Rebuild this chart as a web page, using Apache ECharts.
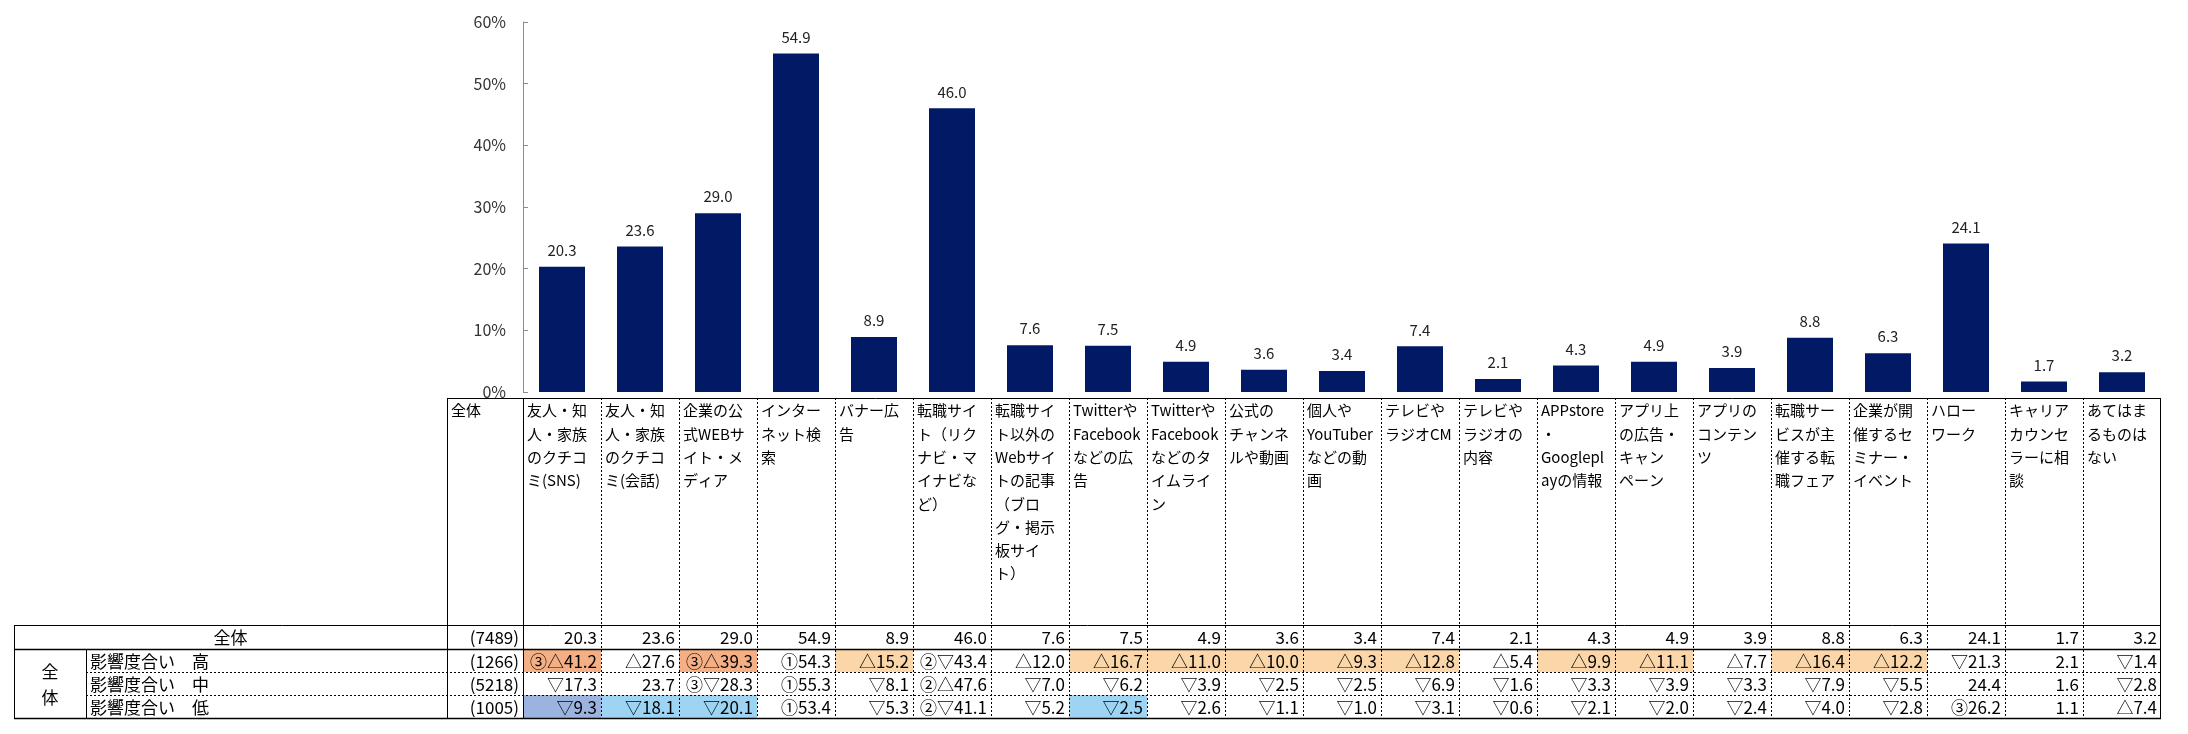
<!DOCTYPE html>
<html>
<head>
<meta charset="utf-8">
<script src="https://cdn.jsdelivr.net/npm/echarts@6/dist/echarts.min.js"></script>
<style>
html,body{margin:0;padding:0;background:#fff;}
#chart{width:2188px;height:734px;}
</style>
</head>
<body>
<div id="chart"></div>
<script>
// ---------- DATA ----------
const categories = [
  "友人・知\n人・家族\nのクチコ\nミ(SNS)",
  "友人・知\n人・家族\nのクチコ\nミ(会話)",
  "企業の公\n式WEBサ\nイト・メ\nディア",
  "インター\nネット検\n索",
  "バナー広\n告",
  "転職サイ\nト（リク\nナビ・マ\nイナビな\nど）",
  "転職サイ\nト以外の\nWebサイ\nトの記事\n（ブロ\nグ・掲示\n板サイ\nト）",
  "Twitterや\nFacebook\nなどの広\n告",
  "Twitterや\nFacebook\nなどのタ\nイムライ\nン",
  "公式の\nチャンネ\nルや動画",
  "個人や\nYouTuber\nなどの動\n画",
  "テレビや\nラジオCM",
  "テレビや\nラジオの\n内容",
  "APPstore\n・\nGooglepl\nayの情報",
  "アプリ上\nの広告・\nキャン\nペーン",
  "アプリの\nコンテン\nツ",
  "転職サー\nビスが主\n催する転\n職フェア",
  "企業が開\n催するセ\nミナー・\nイベント",
  "ハロー\nワーク",
  "キャリア\nカウンセ\nラーに相\n談",
  "あてはま\nるものは\nない"
];
const overall = [20.3, 23.6, 29.0, 54.9, 8.9, 46.0, 7.6, 7.5, 4.9, 3.6, 3.4, 7.4, 2.1, 4.3, 4.9, 3.9, 8.8, 6.3, 24.1, 1.7, 3.2];
const yTicks = ["0%", "10%", "20%", "30%", "40%", "50%", "60%"];

const headerLabel = "全体";
const totalLabel = "全体";
const totalN = "(7489)";
const groupLabel = "全\n体";
const rowNames = ["影響度合い　高", "影響度合い　中", "影響度合い　低"];
const rowN = ["(1266)", "(5218)", "(1005)"];
const rowHigh = ["③△41.2","△27.6","③△39.3","①54.3","△15.2","②▽43.4","△12.0","△16.7","△11.0","△10.0","△9.3","△12.8","△5.4","△9.9","△11.1","△7.7","△16.4","△12.2","▽21.3","2.1","▽1.4"];
const rowMid  = ["▽17.3","23.7","③▽28.3","①55.3","▽8.1","②△47.6","▽7.0","▽6.2","▽3.9","▽2.5","▽2.5","▽6.9","▽1.6","▽3.3","▽3.9","▽3.3","▽7.9","▽5.5","24.4","1.6","▽2.8"];
const rowLow  = ["▽9.3","▽18.1","▽20.1","①53.4","▽5.3","②▽41.1","▽5.2","▽2.5","▽2.6","▽1.1","▽1.0","▽3.1","▽0.6","▽2.1","▽2.0","▽2.4","▽4.0","▽2.8","③26.2","1.1","△7.4"];
// significance shading codes: 2 = strong high, 1 = high, -1 = low, -2 = strong low, 0 = none
const shadeHigh = [2,0,2,0,1,0,0,1,1,1,1,1,0,1,1,0,1,1,0,0,0];
const shadeMid  = [0,0,0,0,0,0,0,0,0,0,0,0,0,0,0,0,0,0,0,0,0];
const shadeLow  = [-2,-1,-1,0,0,0,0,-1,0,0,0,0,0,0,0,0,0,0,0,0,0];

// ---------- STYLE ----------
const FONT = '"Noto Sans CJK JP", "Noto Sans", sans-serif';
const shadeColors = { "2": "#F4B084", "1": "#FAD6A8", "-1": "#9DD4F3", "-2": "#9DB3DF" };
const BAR_COLOR = "#021A65";

const chart = echarts.init(document.getElementById('chart'), null, { renderer: 'canvas' });

const option = {
  animation: false,
  backgroundColor: '#fff',
  grid: { left: 523, right: 27, top: 22, bottom: 342, containLabel: false },
  xAxis: {
    type: 'category',
    data: categories,
    axisLine: { show: false },
    axisTick: { show: false },
    axisLabel: { show: false }
  },
  yAxis: {
    type: 'value',
    min: 0, max: 60, interval: 10,
    axisLine: { show: true, lineStyle: { color: '#8c8c8c', width: 1 } },
    axisTick: { show: true, inside: true, length: 5, lineStyle: { color: '#8c8c8c' } },
    splitLine: { show: false },
    axisLabel: {
      margin: 17,
      color: '#333',
      fontFamily: FONT,
      fontSize: 16,
      formatter: function (v) { return yTicks[Math.round(v / 10)]; }
    }
  },
  series: [{
    type: 'bar',
    data: overall,
    barWidth: 46,
    itemStyle: { color: BAR_COLOR },
    label: {
      show: true,
      position: 'top',
      distance: 9,
      color: '#222',
      fontFamily: FONT,
      fontSize: 15,
      formatter: function (p) { return p.value.toFixed(1); }
    }
  }]
};
chart.setOption(option);

// ---------- TABLE (positioned from the category axis) ----------
function buildTable() {
  const n = categories.length;
  const c0 = chart.convertToPixel({ xAxisIndex: 0 }, 0);
  const c1 = chart.convertToPixel({ xAxisIndex: 0 }, 1);
  const band = c1 - c0;
  const colLeft = i => chart.convertToPixel({ xAxisIndex: 0 }, i) - band / 2;
  const gridLeft = colLeft(0);
  const gridRight = colLeft(n - 1) + band;

  const yHeadTop = 398;
  const rowsY = [625, 649, 672, 695, 718];
  const xTableLeft = 14, xGroup = 86, xLabelRight = 447;

  const els = [];
  const solid = (x1, y1, x2, y2, w) => els.push({ type: 'line', silent: true,
    shape: { x1: x1, y1: y1, x2: x2, y2: y2 }, style: { stroke: '#000', lineWidth: w || 1 }, z: 10 });
  const dotted = (x1, y1, x2, y2) => els.push({ type: 'line', silent: true,
    shape: { x1: x1, y1: y1, x2: x2, y2: y2 }, style: { stroke: '#000', lineWidth: 1, lineDash: [2, 2] }, z: 10 });
  const text = (x, y, s, align, vAlign, size, extra) => els.push({ type: 'text', silent: true, x: x, y: y, z: 20,
    style: Object.assign({ text: s, fill: '#000', font: size + 'px ' + FONT, align: align, verticalAlign: vAlign }, extra || {}) });

  // shaded cells
  const shades = [null, shadeHigh, shadeMid, shadeLow];
  for (let r = 1; r <= 3; r++) {
    for (let i = 0; i < n; i++) {
      const code = shades[r][i];
      if (code) {
        els.push({ type: 'rect', silent: true, z: 5,
          shape: { x: colLeft(i), y: rowsY[r], width: band, height: rowsY[r + 1] - rowsY[r] },
          style: { fill: shadeColors[String(code)] } });
      }
    }
  }

  // header box
  solid(xLabelRight, yHeadTop + 0.5, gridRight, yHeadTop + 0.5);
  solid(xLabelRight + 0.5, yHeadTop, xLabelRight + 0.5, rowsY[4]);
  solid(gridLeft + 0.5, yHeadTop, gridLeft + 0.5, rowsY[4]);
  solid(gridRight - 0.5, yHeadTop, gridRight - 0.5, rowsY[4]);
  for (let i = 1; i < n; i++) {
    const x = Math.round(colLeft(i)) + 0.5;
    dotted(x, yHeadTop, x, rowsY[4]);
  }
  text(xLabelRight + 4, yHeadTop + 1, headerLabel, 'left', 'top', 15, { lineHeight: 23.3 });
  for (let i = 0; i < n; i++) {
    text(colLeft(i) + 4, yHeadTop + 1, categories[i], 'left', 'top', 15, { lineHeight: 23.3 });
  }

  // bottom table frame
  solid(xTableLeft, rowsY[0] + 0.5, gridRight, rowsY[0] + 0.5);
  solid(xTableLeft, rowsY[1] + 0.5, gridRight, rowsY[1] + 0.5, 1.5);
  dotted(xGroup, rowsY[2] + 0.5, gridRight, rowsY[2] + 0.5);
  dotted(xGroup, rowsY[3] + 0.5, gridRight, rowsY[3] + 0.5);
  solid(xTableLeft, rowsY[4] + 0.5, gridRight, rowsY[4] + 0.5, 1.5);
  solid(xTableLeft + 0.5, rowsY[0], xTableLeft + 0.5, rowsY[4]);
  solid(xGroup + 0.5, rowsY[1], xGroup + 0.5, rowsY[4]);

  const FS = 17;
  const midY = r => (rowsY[r] + rowsY[r + 1]) / 2 + 1;
  text((xTableLeft + xLabelRight) / 2, midY(0), totalLabel, 'center', 'middle', FS);
  text(gridLeft - 4, midY(0), totalN, 'right', 'middle', FS);
  for (let i = 0; i < n; i++) {
    text(colLeft(i) + band - 4, midY(0), overall[i].toFixed(1), 'right', 'middle', FS);
  }
  text((xTableLeft + xGroup) / 2, (rowsY[1] + rowsY[4]) / 2 + 1, groupLabel, 'center', 'middle', FS, { lineHeight: 26 });
  const rows = [rowHigh, rowMid, rowLow];
  for (let r = 0; r < 3; r++) {
    text(xGroup + 4, midY(r + 1), rowNames[r], 'left', 'middle', FS);
    text(gridLeft - 4, midY(r + 1), rowN[r], 'right', 'middle', FS);
    for (let i = 0; i < n; i++) {
      text(colLeft(i) + band - 4, midY(r + 1), rows[r][i], 'right', 'middle', FS);
    }
  }
  chart.setOption({ graphic: { elements: els } });
}
buildTable();
</script>
</body>
</html>
